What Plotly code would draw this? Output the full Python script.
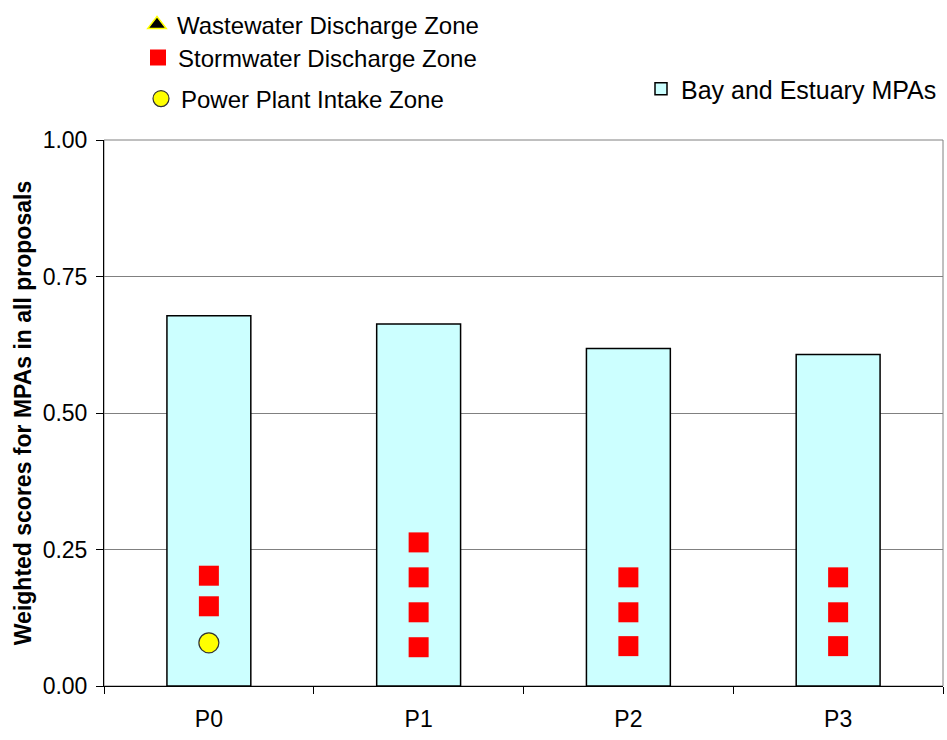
import plotly.graph_objects as go

categories = ["P0", "P1", "P2", "P3"]
bay_estuary = [0.678, 0.663, 0.618, 0.607]

storm_x = ["P0", "P0", "P1", "P1", "P1", "P1", "P2", "P2", "P2", "P3", "P3", "P3"]
storm_y = [0.202, 0.146, 0.263, 0.199, 0.135, 0.071, 0.199, 0.135, 0.073, 0.199, 0.135, 0.073]

power_x = ["P0"]
power_y = [0.079]

waste_x = []
waste_y = []

y_ticks = [0.0, 0.25, 0.5, 0.75, 1.0]
y_labels = ["0.00", "0.25", "0.50", "0.75", "1.00"]

FONT = "Liberation Sans, Arial, sans-serif"

fig = go.Figure()
fig.add_trace(go.Bar(
    x=categories, y=bay_estuary, name="Bay and Estuary MPAs", width=0.4,
    marker=dict(color="#CCFFFF", line=dict(color="black", width=1.5)),
    legend="legend4",
))
fig.add_trace(go.Scatter(
    x=waste_x if waste_x else [None], y=waste_y if waste_y else [None],
    mode="markers", name="Wastewater Discharge Zone",
    marker=dict(symbol="triangle-up", size=18, color="black", line=dict(color="yellow", width=1.5)),
    legend="legend",
))
fig.add_trace(go.Scatter(
    x=storm_x, y=storm_y, mode="markers", name="Stormwater Discharge Zone",
    marker=dict(symbol="square", size=20, color="#FF0000", line=dict(width=0)),
    legend="legend2",
))
fig.add_trace(go.Scatter(
    x=power_x, y=power_y, mode="markers", name="Power Plant Intake Zone",
    marker=dict(symbol="circle", size=20, color="#FFFF00", line=dict(color="#333333", width=1.2)),
    legend="legend3",
))

L = 104
R = 943
T = 139
B = 686
W, H = 947, 740
pw = R - L
ph = B - T


def px(x):
    return (x - L) / pw


def py(y):
    return (B - y) / ph


def leg(x, y, size, anchor="middle"):
    return dict(x=px(x), y=py(y), xanchor="left", yanchor=anchor,
                bgcolor="rgba(0,0,0,0)", borderwidth=0,
                font=dict(family=FONT, size=size, color="black"), itemsizing="trace")


fig.update_layout(
    width=W, height=H,
    margin=dict(l=L, r=W - R, t=T, b=H - B, pad=0),
    paper_bgcolor="white", plot_bgcolor="white",
    font=dict(family=FONT, size=23, color="black"),
    showlegend=True,
    legend=leg(137, 2.5, 24, anchor="top"),
    legend2=leg(138, 58, 24),
    legend3=leg(141, 99, 24),
    legend4=leg(641, 89, 25),
    xaxis=dict(
        type="category", categoryorder="array", categoryarray=categories,
        range=[-0.5, 3.5],
        showline=True, linecolor="black", linewidth=1,
        ticks="outside", tickson="boundaries", ticklen=7, tickcolor="black",
        ticklabelstandoff=12,
        showgrid=False, tickfont=dict(family=FONT, size=23, color="black"),
    ),
    yaxis=dict(
        range=[0, 1], tickvals=y_ticks, ticktext=y_labels,
        showline=True, linecolor="black", linewidth=1,
        ticks="outside", ticklen=7, tickcolor="black",
        ticklabelstandoff=4,
        showgrid=True, gridcolor="#808080", gridwidth=1,
        zeroline=False,
        tickfont=dict(family=FONT, size=23, color="black"),
        title=dict(text="<b>Weighted scores for MPAs in all proposals</b>",
                   font=dict(family=FONT, size=23, color="black"), standoff=4),
    ),
    shapes=[dict(type="rect", xref="paper", yref="paper", x0=0, x1=1, y0=0, y1=1,
                 line=dict(color="#808080", width=1), layer="below")],
)

fig.write_html("out.html")
